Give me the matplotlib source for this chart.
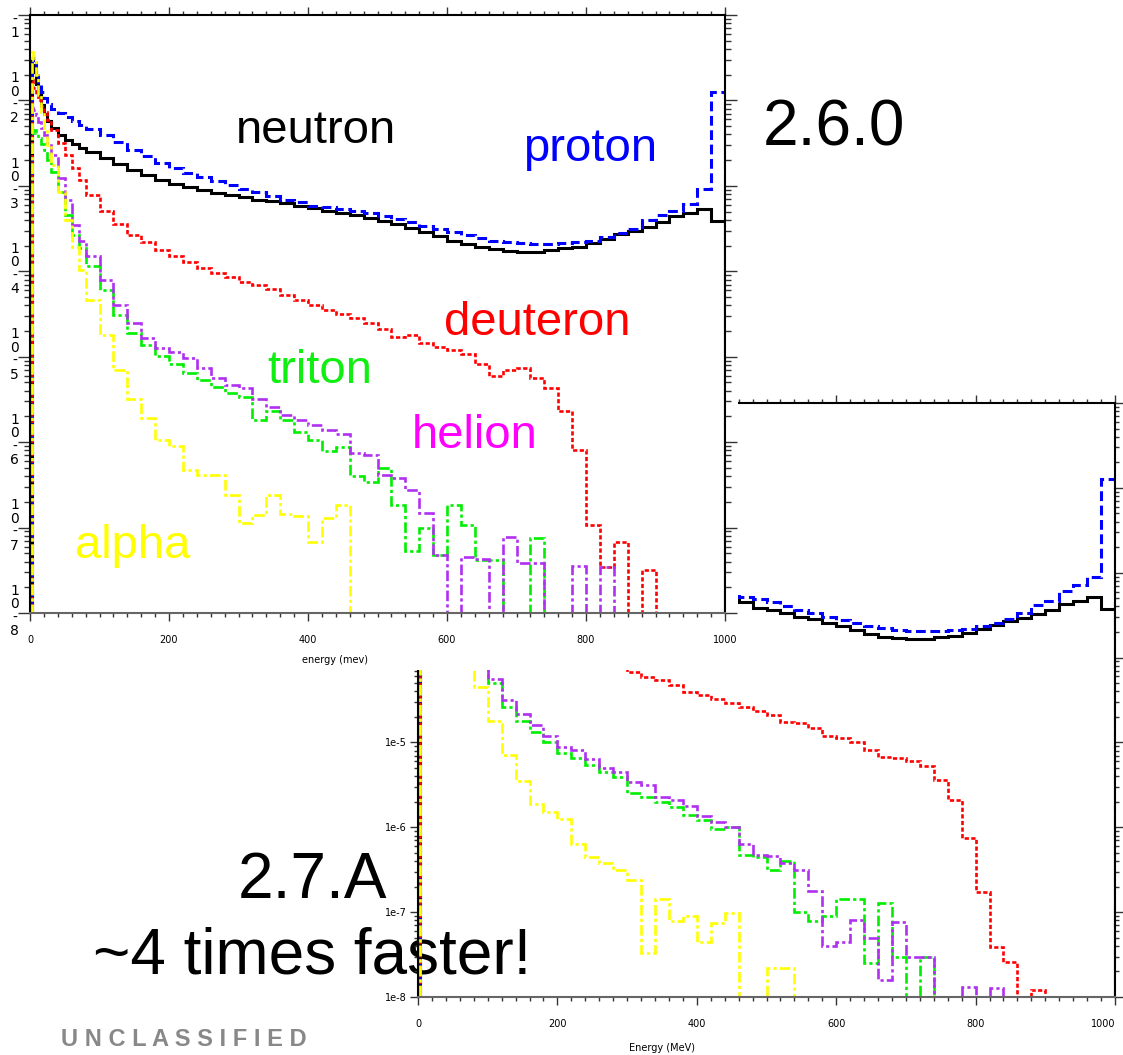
import numpy as np
import matplotlib
matplotlib.use("Agg")
import matplotlib.pyplot as plt
from matplotlib.patches import Rectangle
from matplotlib.transforms import offset_copy
from matplotlib.ticker import MultipleLocator, LogLocator, FuncFormatter, NullFormatter

W, H = 1123, 1055

# bin edges (MeV): fine at low energy, 20 MeV wide above 80
edges = np.concatenate([[3, 4, 8, 12, 16, 20, 25, 30, 40, 50, 60, 70],
                        np.arange(80, 1001, 20)])

# log10 of the flux per bin, None = empty bin
# ---- version 2.6.0 (top left) ----
neutron_a = [-1.59, -1.67, -1.81, -1.94, -2.05, -2.16, -2.24, -2.32, -2.41, -2.46, -2.51, -2.56,
             -2.60, -2.67, -2.75, -2.82, -2.87, -2.93, -2.98, -3.01, -3.05, -3.08,
             -3.11, -3.13, -3.16, -3.18, -3.20, -3.24, -3.26, -3.30, -3.32, -3.34,
             -3.38, -3.41, -3.45, -3.49, -3.54, -3.59, -3.64, -3.68, -3.72, -3.74,
             -3.76, -3.78, -3.78, -3.75, -3.73, -3.71, -3.67, -3.62, -3.56, -3.53,
             -3.48, -3.42, -3.35, -3.32, -3.27, -3.41]
proton_a = [-1.53, -1.50, -1.64, -1.79, -1.90, -1.97, -2.04, -2.10, -2.15, -2.19, -2.24, -2.29,
            -2.34, -2.41, -2.49, -2.58, -2.65, -2.73, -2.79, -2.85, -2.90, -2.94,
            -2.99, -3.04, -3.07, -3.12, -3.16, -3.19, -3.23, -3.25, -3.27, -3.30,
            -3.32, -3.35, -3.39, -3.42, -3.47, -3.51, -3.54, -3.58, -3.61, -3.64,
            -3.66, -3.67, -3.68, -3.68, -3.67, -3.66, -3.64, -3.60, -3.55, -3.51,
            -3.40, -3.34, -3.30, -3.21, -3.04, -1.90]
deuteron_a = [-1.76, -1.86, -1.93, -2.00, -2.07, -2.14, -2.23, -2.35, -2.50, -2.64, -2.79, -2.93,
              -3.11, -3.30, -3.45, -3.58, -3.66, -3.75, -3.82, -3.89, -3.96, -4.02,
              -4.07, -4.12, -4.16, -4.21, -4.28, -4.34, -4.40, -4.45, -4.50, -4.55,
              -4.60, -4.67, -4.77, -4.74, -4.84, -4.89, -4.92, -4.97, -5.08, -5.22,
              -5.16, -5.13, -5.25, -5.37, -5.63, -6.09, -6.97, -7.46, -7.17, None,
              -7.50, None, None, None, None, None]
triton_a = [-2.41, -2.35, -2.38, -2.44, -2.51, -2.58, -2.70, -2.84, -3.07, -3.34, -3.58, -3.73,
            -3.94, -4.22, -4.51, -4.72, -4.86, -4.99, -5.09, -5.19, -5.27, -5.36,
            -5.42, -5.47, -5.74, -5.63, -5.74, -5.88, -5.98, -6.10, -6.06, -6.40,
            -6.47, -6.30, -6.74, -7.27, -7.01, -7.32, -6.74, -6.97, -7.38, -7.38,
            None, None, -7.12, None, None, None, None, None, None, None,
            None, None, None, None, None, None]
helion_a = [-2.09, -2.11, -2.17, -2.25, -2.32, -2.41, -2.50, -2.64, -2.91, -3.17, -3.46, -3.64,
            -3.82, -4.10, -4.40, -4.61, -4.78, -4.90, -4.95, -5.02, -5.13, -5.25,
            -5.33, -5.37, -5.49, -5.59, -5.68, -5.74, -5.80, -5.86, -5.91, -6.13,
            -6.15, -6.38, -6.42, -6.56, -6.83, -7.32, None, -7.35, -7.37, None,
            -7.11, -7.42, -7.42, None, None, -7.45, None, -7.46, None, None,
            None, None, None, None, None, None]
alpha_a = [-1.43, -1.53, -1.70, -1.94, -2.14, -2.32, -2.52, -2.76, -3.07, -3.40, -3.72, -3.99,
           -4.34, -4.75, -5.16, -5.49, -5.72, -5.98, -6.04, -6.33, -6.39, -6.39,
           -6.62, -6.95, -6.85, -6.62, -6.84, -6.86, -7.17, -6.89, -6.74, None,
           None, None, None, None, None, None, None, None, None, None,
           None, None, None, None, None, None, None, None, None, None,
           None, None, None, None, None, None]

# ---- version 2.7.A (bottom right) ----
neutron_b = [-1.59, -1.67, -1.81, -1.94, -2.05, -2.16, -2.24, -2.32, -2.41, -2.46, -2.51, -2.56,
             -2.60, -2.67, -2.75, -2.82, -2.87, -2.93, -2.98, -3.01, -3.05, -3.08,
             -3.11, -3.13, -3.16, -3.18, -3.20, -3.24, -3.26, -3.30, -3.32, -3.35,
             -3.42, -3.44, -3.48, -3.52, -3.55, -3.59, -3.63, -3.68, -3.72, -3.76,
             -3.77, -3.78, -3.78, -3.76, -3.74, -3.71, -3.66, -3.62, -3.57, -3.53,
             -3.49, -3.44, -3.37, -3.33, -3.29, -3.43]
proton_b = [-1.53, -1.50, -1.64, -1.79, -1.90, -1.97, -2.04, -2.10, -2.15, -2.19, -2.24, -2.29,
            -2.34, -2.41, -2.49, -2.58, -2.65, -2.73, -2.79, -2.85, -2.90, -2.94,
            -2.99, -3.04, -3.07, -3.12, -3.16, -3.19, -3.23, -3.25, -3.27, -3.29,
            -3.31, -3.34, -3.39, -3.44, -3.48, -3.52, -3.56, -3.59, -3.63, -3.65,
            -3.67, -3.69, -3.69, -3.69, -3.68, -3.66, -3.63, -3.59, -3.54, -3.47,
            -3.38, -3.33, -3.22, -3.15, -3.05, -1.89]
deuteron_b = [-1.76, -1.86, -1.93, -2.00, -2.07, -2.14, -2.23, -2.35, -2.50, -2.64, -2.79, -2.93,
              -3.11, -3.30, -3.45, -3.58, -3.66, -3.75, -3.82, -3.89, -3.96, -4.02,
              -4.07, -4.17, -4.23, -4.27, -4.32, -4.40, -4.44, -4.49, -4.53, -4.58,
              -4.63, -4.68, -4.76, -4.77, -4.83, -4.93, -4.95, -4.99, -5.09, -5.17,
              -5.18, -5.22, -5.28, -5.44, -5.68, -6.13, -6.76, -7.41, -7.59, None,
              -7.92, None, None, None, None, None]
triton_b = [-2.41, -2.35, -2.38, -2.44, -2.51, -2.58, -2.70, -2.84, -3.07, -3.34, -3.58, -3.73,
            -3.95, -4.30, -4.58, -4.75, -4.88, -4.99, -5.12, -5.18, -5.27, -5.35,
            -5.41, -5.60, -5.64, -5.70, -5.76, -5.86, -5.92, -6.02, -6.00, -6.33,
            -6.35, -6.50, -6.40, -7.00, -7.10, -7.05, -6.85, -6.85, -7.60, -6.89,
            -7.53, None, -7.53, None, None, None, None, None, None, None,
            None, None, None, None, None, None]
helion_b = [-2.09, -2.11, -2.17, -2.25, -2.32, -2.41, -2.50, -2.64, -2.91, -3.17, -3.46, -3.64,
            -3.82, -4.25, -4.50, -4.66, -4.80, -4.92, -5.05, -5.09, -5.20, -5.30,
            -5.35, -5.47, -5.50, -5.64, -5.68, -5.75, -5.87, -5.94, -6.00, -6.20,
            -6.33, -6.34, -6.42, -6.50, -6.75, -7.40, -7.35, -7.09, -7.30, -7.80,
            -7.12, -7.53, -7.53, None, None, -7.88, None, -7.89, None, None,
            None, None, None, None, None, None]
alpha_b = [-1.43, -1.53, -1.70, -1.94, -2.14, -2.32, -2.52, -2.76, -3.07, -3.40, -3.72, -3.99,
           -4.35, -4.75, -5.15, -5.45, -5.72, -5.82, -5.90, -6.20, -6.35, -6.42,
           -6.50, -6.62, -7.48, -6.85, -7.10, -7.05, -7.35, -7.13, -7.01, None,
           None, -7.66, -7.66, None, None, None, None, None, None, None,
           None, None, None, None, None, None, None, None, None, None,
           None, None, None, None, None, None]

decades = [-8, -7, -6, -5, -4, -3, -2, -1]

FLOOR = 1e-14
styles = {
    "neutron": dict(color="black", lw=2.2, linestyle="-"),
    "proton": dict(color="#0000ff", lw=2.2, linestyle=(0, (3.2, 1.5))),
    "deuteron": dict(color="#ff0000", lw=1.9, linestyle=(0, (1.6, 0.9))),
    "triton": dict(color="#00ee00", lw=1.9, linestyle=(0, (4, 1.2, 1.2, 1.2))),
    "helion": dict(color="#b030f0", lw=1.9, linestyle=(0, (4, 1.2, 1.2, 1.2))),
    "alpha": dict(color="#ffff00", lw=1.9, linestyle=(0, (4, 1.2, 1.2, 1.2))),
}


def to_flux(logs):
    return np.array([10.0 ** v if v is not None else FLOOR for v in logs])


def draw_hists(ax, data):
    for name, logs in data:
        ax.stairs(to_flux(logs), edges, baseline=FLOOR, fill=False, **styles[name])


def setup_axes(ax, left_major, left_minor):
    ax.set_yscale("log")
    ax.set_xlim(0, 1000)
    ax.set_ylim(1e-8, 1e-1)
    ax.xaxis.set_major_locator(MultipleLocator(200))
    ax.xaxis.set_minor_locator(MultipleLocator(20))
    ax.yaxis.set_major_locator(LogLocator(base=10, numticks=12))
    ax.yaxis.set_minor_locator(LogLocator(base=10, subs=np.arange(2, 10), numticks=12))
    ax.yaxis.set_minor_formatter(NullFormatter())
    ax.tick_params(which="both", direction="out", top=True, right=True,
                   labeltop=False, labelright=False, color="#333333", width=1.0)
    ax.tick_params(which="major", length=5.8, labelsize=7)
    ax.tick_params(which="minor", length=3.0)
    ax.tick_params(axis="x", which="major", pad=10)
    ax.tick_params(axis="y", which="major", length=left_major)
    ax.tick_params(axis="y", which="minor", length=left_minor)
    for side in ["top", "left", "right"]:
        ax.spines[side].set_color("black")
        ax.spines[side].set_linewidth(1.5)
    ax.spines["bottom"].set_color("#666666")
    ax.spines["bottom"].set_linewidth(1.5)


plt.rcParams["font.family"] = "DejaVu Sans"
fig = plt.figure(figsize=(W / 100, H / 100), dpi=100)
fig.patch.set_facecolor("white")

# lower-right plot (2.7.A)
ax2 = fig.add_axes([418 / W, 1 - 997 / H, 697 / W, 594 / H])
ax2.set_zorder(1)
ax2.patch.set_facecolor("none")
setup_axes(ax2, 5.8, 3.0)
ax2.yaxis.set_major_formatter(FuncFormatter(lambda v, p: "1e%d" % round(np.log10(v))))
ax2.tick_params(axis="y", labelsize=7, pad=2)
draw_hists(ax2, [("neutron", neutron_b), ("proton", proton_b), ("deuteron", deuteron_b),
                 ("triton", triton_b), ("helion", helion_b), ("alpha", alpha_b)])

# white sheet of the top-left screenshot hiding part of the lower plot
fig.add_artist(Rectangle((0, 1 - 670 / H), 738 / W, 670 / H, transform=fig.transFigure,
                         facecolor="white", edgecolor="none", zorder=2))

# top-left plot (2.6.0)
ax1 = fig.add_axes([30 / W, 1 - 613 / H, 695 / W, 598 / H])
ax1.set_zorder(3)
setup_axes(ax1, 8.5, 4.5)
ax1.yaxis.set_major_formatter(NullFormatter())
draw_hists(ax1, [("neutron", neutron_a), ("proton", proton_a), ("deuteron", deuteron_a),
                 ("triton", triton_a), ("helion", helion_a), ("alpha", alpha_a)])

# stacked decade labels of the old plot ("1 0 - 8" written downwards)
ytrans = offset_copy(ax1.get_yaxis_transform(), fig=fig, x=0, y=-22, units="dots")
for d in decades:
    lab = "1\n0\n-\n%d" % -d if d < -1 else "-\n%d" % -d
    ax1.text(-0.022, 10.0 ** d, lab, transform=ytrans, ha="center",
             va="baseline", fontsize=10, linespacing=0.95, clip_on=False)


def ftext(x, y, s, size, color="black", z=5, **kw):
    fig.text(x / W, 1 - y / H, s, ha="center", va="baseline", fontsize=size,
             color=color, zorder=z, **kw)


ftext(335, 663, "energy (mev)", 7)
ftext(662, 1051, "Energy (MeV)", 7, z=0.5)

big = dict(family="Liberation Sans")
ftext(316, 143, "neutron", 34, **big)
ftext(590, 161, "proton", 34, "#0000ff", **big)
ftext(537, 335, "deuteron", 34, "#ff0000", **big)
ftext(320, 383, "triton", 34, "#11ee11", **big)
ftext(475, 448, "helion", 34, "#ff00ff", **big)
ftext(133, 558, "alpha", 34, "#ffff00", **big)
ftext(834, 146, "2.6.0", 46, **big)
ftext(312, 898, "2.7.A", 46, z=0.5, **big)
ftext(312, 974, "~4 times faster!", 46, z=0.5, **big)
ftext(184, 1046, "U N C L A S S I F I E D", 17, "#888888", z=0.5,
      family="Liberation Sans", fontweight="bold")

fig.canvas.draw()
for lbl in ax2.get_xticklabels():
    if lbl.get_text() == "1000":
        lbl.set_horizontalalignment("right")

fig.savefig("out.png", dpi=100)
